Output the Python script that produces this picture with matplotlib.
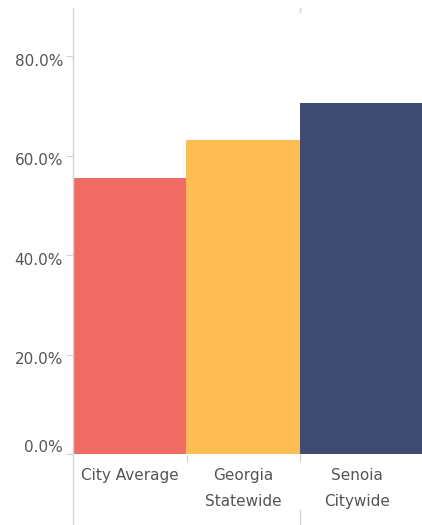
import matplotlib
matplotlib.use("Agg")
import matplotlib.pyplot as plt
from matplotlib.lines import Line2D

categories = ["City Average", "Georgia\nStatewide", "Senoia\nCitywide"]
values = [0.555, 0.631, 0.706]
colors = ["#F06B63", "#FDBD53", "#3F4B73"]
yticks = [0.0, 0.2, 0.4, 0.6, 0.8]

W, H = 422, 525
fig = plt.figure(figsize=(W / 100, H / 100), dpi=100)
left_px, right_px, bottom_px, top_px = 73, 422, 454, 8
ax = fig.add_axes([left_px / W, 1 - bottom_px / H, (right_px - left_px) / W, (bottom_px - top_px) / H])

x = list(range(len(categories)))
widths = [1.0, 1.0, 1.1]
ax.bar([xi - 0.5 for xi in x], values, width=widths, align="edge", color=colors, edgecolor="none")
ax.set_xlim(-0.5, 2.575)
ax.set_ylim(0, 0.897)

text_color = "#555555"
line_color = "#d4d4d4"
for s in ["top", "right", "bottom"]:
    ax.spines[s].set_visible(False)
ax.spines["left"].set_color(line_color)
ax.spines["left"].set_linewidth(1.0)

ax.set_yticks(yticks)
ax.set_yticklabels([])
ax.tick_params(axis="y", length=5, color=line_color)
ax.set_xticks([])

for v in yticks:
    dy = 6 if v == 0 else -5
    ax.annotate(f"{v*100:.1f}%", xy=(0, v), xycoords=("axes fraction", "data"),
                xytext=(-10, dy), textcoords="offset pixels", ha="right", va="center",
                fontsize=11, color=text_color, annotation_clip=False)

for xi, lab in zip(x, categories):
    ax.text(xi, -0.029, lab, ha="center", va="top", fontsize=11, color=text_color,
            linespacing=1.9)

# divider lines as in the reference
fy = lambda py: 1 - py / H
fx = lambda px: px / W
fig.add_artist(Line2D([fx(73), fx(73)], [fy(454), fy(525)], color=line_color, lw=1.0))
for px in [186.5, 300]:
    fig.add_artist(Line2D([fx(px), fx(px)], [fy(455), fy(461)], color=line_color, lw=1.0))
fig.add_artist(Line2D([fx(300), fx(300)], [fy(510), fy(525)], color=line_color, lw=1.0))
fig.add_artist(Line2D([fx(300), fx(300)], [fy(8), fy(12)], color=line_color, lw=1.0))

fig.savefig("out.png", dpi=100)
